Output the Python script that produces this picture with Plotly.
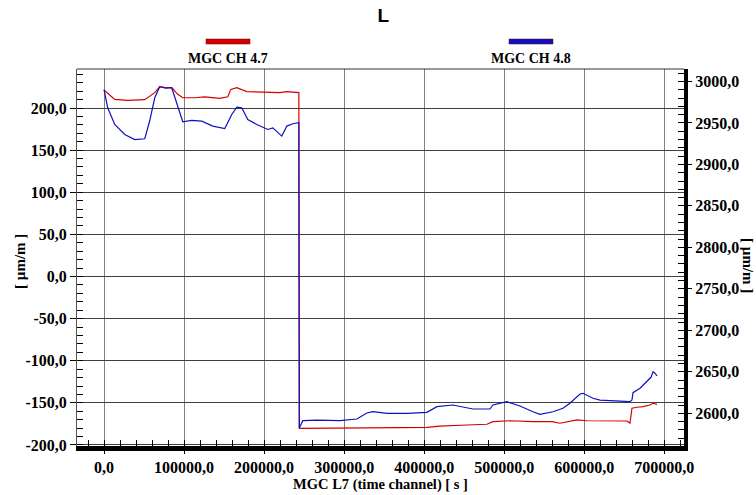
import plotly.graph_objects as go

# MGC CH 4.7 (left axis, µm/m)
red_x = [0, 13400, 29600, 50900, 63400, 69600, 77100, 84600, 92100, 98400, 113400, 125900,
         144600, 154600, 158400, 165900, 178400, 203400, 219600, 228400, 243400, 244000,
         244600, 285900, 328400, 369600, 403400, 419600, 453400, 478400, 485900, 507100,
         535900, 560000, 569600, 578400, 590900, 603400, 619600, 653400, 657100, 659600,
         665900, 673400, 682100, 685900, 690900]
red_y = [221.4, 210.2, 209.0, 209.9, 218.2, 225.3, 224.1, 224.1, 216.2, 212.2, 212.2, 213.1,
         211.4, 213.4, 222.1, 224.1, 219.4, 218.2, 218.2, 219.4, 218.2, -180.2,
         -180.2, -180.2, -179.5, -179.5, -179.0, -177.5, -176.3, -175.4, -172.3, -171.2,
         -172.3, -172.3, -174.2, -172.3, -170.3, -171.2, -171.2, -171.5, -174.2, -156.4,
         -155.2, -154.5, -152.5, -150.5, -151.7]

# MGC CH 4.8 (right axis, µm/m)
blue_x = [0, 4600, 13400, 25900, 38400, 50900, 57100, 63400, 69600, 77100, 84600, 90900,
          98400, 109600, 122100, 135900, 150900, 159600, 165900, 172100, 179600, 190900,
          204600, 210900, 222100, 228400, 235900, 243400, 244000, 248400, 265900, 294600,
          315900, 328400, 335900, 353400, 378400, 403400, 415900, 435900, 460900, 482100,
          485900, 503400, 519600, 535900, 544600, 560900, 573400, 582100, 594600, 598400,
          610900, 619600, 632100, 657100, 659600, 660900, 669600, 678400, 683400, 685900,
          688400, 690900]
blue_y = [2990.0, 2968.3, 2948.1, 2936.1, 2930.0, 2930.9, 2952.6, 2980.3, 2993.6, 2991.8,
          2992.4, 2972.3, 2951.4, 2953.0, 2952.2, 2946.2, 2943.3, 2960.2, 2969.1, 2968.3,
          2954.2, 2948.1, 2942.1, 2944.1, 2934.1, 2946.2, 2949.0, 2950.2, 2582.3, 2591.1,
          2591.9, 2591.1, 2593.1, 2600.4, 2601.9, 2600.0, 2600.0, 2601.2, 2608.0, 2610.0,
          2605.2, 2605.2, 2610.0, 2614.0, 2608.8, 2601.9, 2598.8, 2601.9, 2606.0, 2612.1,
          2623.3, 2624.1, 2618.1, 2616.0, 2615.2, 2614.0, 2616.0, 2624.9, 2630.2, 2638.1,
          2643.4, 2650.2, 2648.3, 2645.0]

# tick values and labels
x_ticks = [0, 100000, 200000, 300000, 400000, 500000, 600000, 700000]
x_labels = ["0,0", "100000,0", "200000,0", "300000,0", "400000,0", "500000,0", "600000,0", "700000,0"]
y_ticks = [-200, -150, -100, -50, 0, 50, 100, 150, 200]
y_labels = ["-200,0", "-150,0", "-100,0", "-50,0", "0,0", "50,0", "100,0", "150,0", "200,0"]
y2_ticks = [2600, 2650, 2700, 2750, 2800, 2850, 2900, 2950, 3000]
y2_labels = ["2600,0", "2650,0", "2700,0", "2750,0", "2800,0", "2850,0", "2900,0", "2950,0", "3000,0"]

series_names = ["MGC CH 4.7", "MGC CH 4.8"]
title_text = "L"
x_title = "MGC L7 (time channel) [ s ]"
y_title = "[ µm/m ]"

RED = "#d40000"
BLUE = "#1010c0"
SERIF = "Liberation Serif"

fig = go.Figure()
fig.add_trace(go.Scatter(x=red_x, y=red_y, mode="lines", name=series_names[0],
                         line=dict(color=RED, width=1.2), yaxis="y"))
fig.add_trace(go.Scatter(x=blue_x, y=blue_y, mode="lines", name=series_names[1],
                         line=dict(color=BLUE, width=1.2), yaxis="y2"))

tickfont = dict(family=SERIF, size=16, color="#000", weight="bold")

fig.update_layout(
    width=756, height=495,
    margin=dict(l=77, r=72, t=69, b=49, autoexpand=False),
    paper_bgcolor="white", plot_bgcolor="white",
    showlegend=False,
    title=dict(text=title_text, x=0.507, xanchor="center", y=0.97, yanchor="middle",
               font=dict(family="Liberation Sans", size=19, color="#000", weight="bold")),
    xaxis=dict(
        range=[-33750, 724600], tickmode="array", tickvals=x_ticks, ticktext=x_labels,
        tickfont=tickfont, automargin=False,
        showgrid=True, gridcolor="#808080", gridwidth=1.3, zeroline=False,
        showline=True, linecolor="#000", linewidth=5,
        ticks="outside", ticklen=3, tickcolor="#000",
        minor=dict(dtick=20000, tick0=0, ticks="inside", ticklen=6, tickcolor="#000", showgrid=False),
        title=dict(text=x_title, standoff=0,
                   font=dict(family=SERIF, size=14.5, color="#000", weight="bold")),
    ),
    yaxis=dict(
        range=[-201.2, 246.3], tickmode="array", tickvals=y_ticks, ticktext=y_labels,
        tickfont=tickfont, automargin=False,
        showgrid=True, gridcolor="#404040", gridwidth=1, zeroline=False,
        showline=True, linecolor="#555", linewidth=1,
        ticks="outside", ticklen=6, tickcolor="#000",
        minor=dict(dtick=10, tick0=0, ticks="inside", ticklen=6, tickcolor="#000", showgrid=False),
        title=dict(text=""),
    ),
    yaxis2=dict(
        range=[2560.6, 3015], overlaying="y", side="right", tickmode="array",
        tickvals=y2_ticks, ticktext=y2_labels, tickfont=tickfont, automargin=False,
        showgrid=False, zeroline=False,
        showline=True, linecolor="#000", linewidth=4,
        ticks="outside", ticklen=4, tickcolor="#000",
        minor=dict(dtick=10, tick0=0, ticks="inside", ticklen=6, tickcolor="#000", showgrid=False),
    ),
)

# frame top line
fig.add_shape(type="line", xref="paper", yref="paper", x0=0, x1=1, y0=1, y1=1,
              line=dict(color="#333", width=1))

# axis titles for left / right axes
ytfont = dict(family=SERIF, size=15, color="#000", weight="bold")
fig.add_annotation(text=y_title, xref="paper", yref="paper", x=(20 - 77) / 607, y=(446 - 262) / 377,
                   showarrow=False, textangle=-90, xanchor="center", yanchor="middle", font=ytfont)
fig.add_annotation(text=y_title, xref="paper", yref="paper", x=(748 - 77) / 607, y=(446 - 265) / 377,
                   showarrow=False, textangle=90, xanchor="center", yanchor="middle", font=ytfont)

# legend: colour bar above each label
leg_colors = [RED, BLUE]
leg_x = [(228 - 77) / 607, (531 - 77) / 607]
for name, col, lx in zip(series_names, leg_colors, leg_x):
    fig.add_shape(type="rect", xref="paper", yref="paper",
                  x0=lx - 22 / 607, x1=lx + 22 / 607,
                  y0=(446 - 44) / 377, y1=(446 - 39) / 377,
                  fillcolor=col, line=dict(color="#600", width=0.5))
    fig.add_annotation(text=name, xref="paper", yref="paper", x=lx, y=(446 - 58) / 377,
                       showarrow=False, xanchor="center", yanchor="middle",
                       font=dict(family=SERIF, size=14, color="#000", weight="bold"))

fig.write_html("out.html", config={"displayModeBar": False},
               post_script="document.body.style.margin='0';document.body.style.overflow='hidden';")
